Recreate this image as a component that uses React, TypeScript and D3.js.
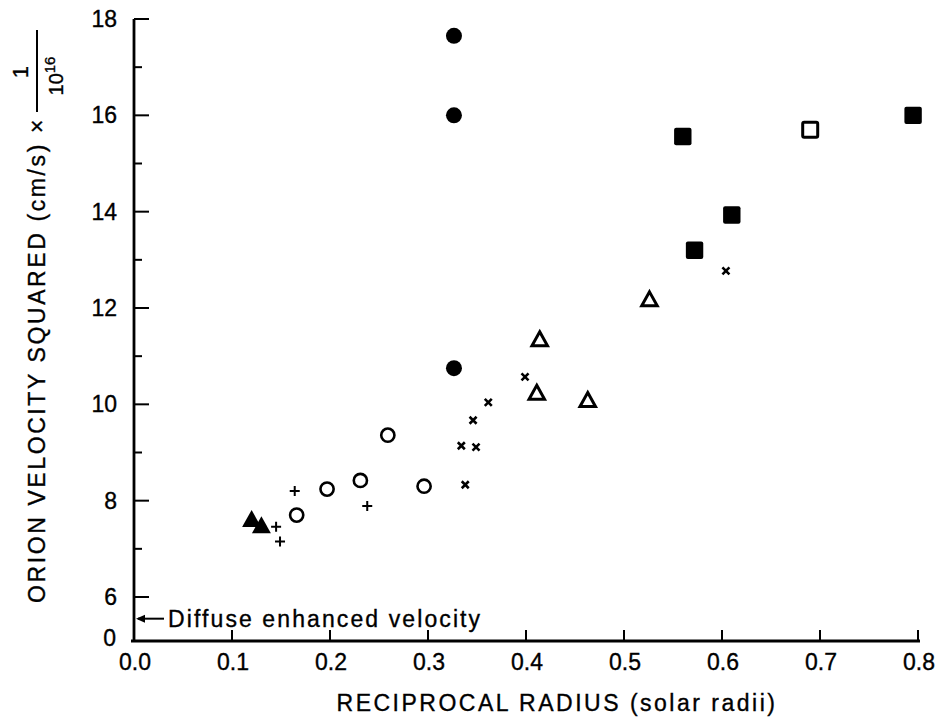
import React from "react";
import * as d3 from "d3";

// ---- data (x = reciprocal radius, y = velocity squared / 1e16) ----
const filledCircles: [number, number][] = [
  [0.3265, 17.65],
  [0.3265, 16.0],
  [0.3265, 10.75],
];
const filledSquares: [number, number][] = [
  [0.56, 15.56],
  [0.572, 13.2],
  [0.61, 13.93],
  [0.795, 16.0],
];
const openSquares: [number, number][] = [[0.69, 15.7]];
const openTriangles: [number, number][] = [
  [0.526, 12.19],
  [0.414, 11.36],
  [0.411, 10.25],
  [0.463, 10.1],
];
const openCircles: [number, number][] = [
  [0.259, 9.36],
  [0.231, 8.42],
  [0.197, 8.24],
  [0.296, 8.3],
  [0.166, 7.7],
];
const crosses: [number, number][] = [
  [0.604, 12.77],
  [0.399, 10.57],
  [0.3615, 10.04],
  [0.346, 9.67],
  [0.334, 9.14],
  [0.349, 9.11],
  [0.338, 8.33],
];
const pluses: [number, number][] = [
  [0.164, 8.2],
  [0.238, 7.89],
  [0.145, 7.46],
  [0.149, 7.15],
];
const filledTriangles: [number, number][] = [
  [0.12, 7.63],
  [0.13, 7.5],
];

const xTicks = [0, 0.1, 0.2, 0.3, 0.4, 0.5, 0.6, 0.7, 0.8];
const yMajor = [18, 16, 14, 12, 10, 8, 6];
const yMinor = [17, 15, 13, 11, 9, 7];
const diffuseLevel = 5.55;
const xTitle = "RECIPROCAL RADIUS (solar radii)";
const yTitle = "ORION VELOCITY SQUARED (cm/s) \u00d7";
const diffuseText = "Diffuse enhanced velocity";

const W = 945;
const H = 721;
const FONT = "'Liberation Sans', Arial, Helvetica, sans-serif";
const TS = { stroke: "#000", strokeWidth: 0.35 };

export default function App() {
  const x = d3.scaleLinear().domain([0, 0.8]).range([134, 918]);
  const y = d3.scaleLinear().domain([6, 18]).range([597, 19]);
  const axisY = 641;
  const x0 = x(0);

  const tri = (s: number) => {
    const h = s * 0.9;
    return `M0,${-h / 2}L${s / 2},${h / 2}L${-s / 2},${h / 2}Z`;
  };

  return (
    <svg
      width={W}
      height={H}
      style={{ position: "absolute", left: 0, top: 0, background: "#fff" }}
      fontFamily={FONT}
    >
      <rect width={W} height={H} fill="#fff" />
      {/* y axis */}
      <line x1={x0} x2={x0} y1={y(18)} y2={axisY + 1} stroke="#000" strokeWidth={2.8} />
      {yMajor.map((v) => (
        <g key={"ym" + v}>
          <line x1={x0} x2={x0 + 15} y1={y(v)} y2={y(v)} stroke="#000" strokeWidth={2} />
          <text x={117} y={y(v)} textAnchor="end" dominantBaseline="central" fontSize={23} {...TS}>
            {v}
          </text>
        </g>
      ))}
      {yMinor.map((v) => (
        <line key={"yn" + v} x1={x0} x2={x0 + 8} y1={y(v)} y2={y(v)} stroke="#000" strokeWidth={2} />
      ))}
      <text x={116} y={axisY - 3} textAnchor="end" dominantBaseline="central" fontSize={23} {...TS}>
        0
      </text>
      {/* diffuse arrow */}
      <line x1={x0 + 4} x2={x0 + 30} y1={y(diffuseLevel)} y2={y(diffuseLevel)} stroke="#000" strokeWidth={2} />
      <path
        d={`M${x0 + 2},${y(diffuseLevel)}L${x0 + 11},${y(diffuseLevel) - 4}L${x0 + 11},${y(diffuseLevel) + 4}Z`}
        fill="#000"
      />
      <text x={168} y={y(diffuseLevel)} dominantBaseline="central" fontSize={23} letterSpacing={2.1} {...TS}>
        {diffuseText}
      </text>
      {/* x axis */}
      <line x1={x0 - 3} x2={x(0.8) + 2} y1={axisY} y2={axisY} stroke="#000" strokeWidth={2.8} />
      {xTicks.map((v) => (
        <g key={"x" + v}>
          {v > 0 && <line x1={x(v)} x2={x(v)} y1={axisY} y2={axisY - 11} stroke="#000" strokeWidth={2} />}
          <text x={x(v) + 1} y={662} textAnchor="middle" dominantBaseline="central" fontSize={23} {...TS}>
            {v.toFixed(1)}
          </text>
        </g>
      ))}
      <text x={557} y={703} textAnchor="middle" dominantBaseline="central" fontSize={23} letterSpacing={2.5} {...TS}>
        {xTitle}
      </text>
      {/* y title */}
      <g transform="translate(45,0) rotate(-90)">
        <text x={-603} y={0} fontSize={23} letterSpacing={2.6} {...TS}>
          {yTitle}
        </text>
        <line x1={-112} x2={-30} y1={-8} y2={-8} stroke="#000" strokeWidth={2} />
        <text x={-72} y={-17} textAnchor="middle" fontSize={22} {...TS}>
          1
        </text>
        <text x={-76} y={18} textAnchor="middle" fontSize={20} {...TS}>
          10
          <tspan fontSize={15} dy={-8}>
            16
          </tspan>
        </text>
      </g>

      {/* markers */}
      {filledCircles.map(([a, b], i) => (
        <circle key={"fc" + i} cx={x(a)} cy={y(b)} r={8} fill="#000" />
      ))}
      {openCircles.map(([a, b], i) => (
        <circle key={"oc" + i} cx={x(a)} cy={y(b)} r={6.6} fill="none" stroke="#000" strokeWidth={2.6} />
      ))}
      {filledSquares.map(([a, b], i) => (
        <rect key={"fs" + i} x={x(a) - 8.7} y={y(b) - 8.7} width={17.4} height={17.4} rx={2} fill="#000" />
      ))}
      {openSquares.map(([a, b], i) => (
        <rect key={"os" + i} x={x(a) - 7.5} y={y(b) - 7.5} width={15} height={15} rx={1.5} fill="none" stroke="#000" strokeWidth={3} />
      ))}
      {openTriangles.map(([a, b], i) => (
        <path key={"ot" + i} transform={`translate(${x(a)},${y(b)})`} d={tri(15.5)} fill="none" stroke="#000" strokeWidth={3} strokeLinejoin="miter" />
      ))}
      {filledTriangles.map(([a, b], i) => (
        <path key={"ft" + i} transform={`translate(${x(a)},${y(b)})`} d={tri(19)} fill="#000" />
      ))}
      {crosses.map(([a, b], i) => (
        <path
          key={"cx" + i}
          transform={`translate(${x(a)},${y(b)})`}
          d="M-3.5,-3.5L3.5,3.5M-3.5,3.5L3.5,-3.5"
          stroke="#000"
          strokeWidth={2.6}
        />
      ))}
      {pluses.map(([a, b], i) => (
        <path
          key={"pl" + i}
          transform={`translate(${x(a)},${y(b)})`}
          d="M-5,0L5,0M0,-5L0,5"
          stroke="#000"
          strokeWidth={2}
        />
      ))}
    </svg>
  );
}
